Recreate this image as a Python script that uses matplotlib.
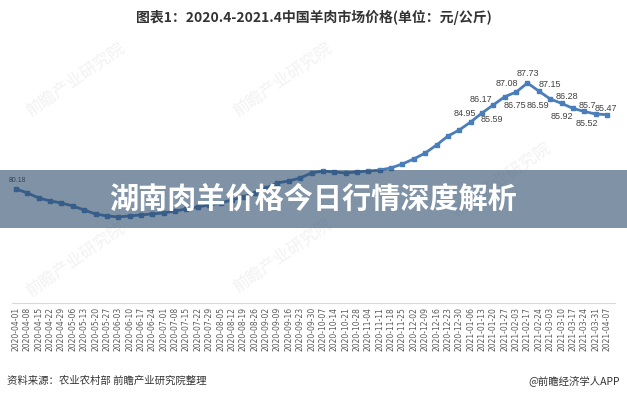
import matplotlib
matplotlib.use("Agg")
import matplotlib.pyplot as plt
from matplotlib.patches import Rectangle

plt.rcParams['font.family'] = ['Noto Sans CJK SC', 'DejaVu Sans']

# weekly dates (2021-02-10 missing in source)
dates = ["2020-04-01", "2020-04-08", "2020-04-15", "2020-04-22", "2020-04-29",
         "2020-05-06", "2020-05-13", "2020-05-20", "2020-05-27", "2020-06-03",
         "2020-06-10", "2020-06-17", "2020-06-24", "2020-07-01", "2020-07-08",
         "2020-07-15", "2020-07-22", "2020-07-29", "2020-08-05", "2020-08-12",
         "2020-08-19", "2020-08-26", "2020-09-02", "2020-09-09", "2020-09-16",
         "2020-09-23", "2020-09-30", "2020-10-07", "2020-10-14", "2020-10-21",
         "2020-10-28", "2020-11-04", "2020-11-11", "2020-11-18", "2020-11-25",
         "2020-12-02", "2020-12-09", "2020-12-16", "2020-12-23", "2020-12-30",
         "2021-01-06", "2021-01-13", "2021-01-20", "2021-01-27", "2021-02-03",
         "2021-02-17", "2021-02-24", "2021-03-03", "2021-03-10", "2021-03-17",
         "2021-03-24", "2021-03-31", "2021-04-07"]

prices = [80.18, 79.90, 79.54, 79.33, 79.18, 78.97, 78.68, 78.40, 78.26, 78.19,
          78.26, 78.33, 78.40, 78.47, 78.61, 78.76, 78.90, 79.04, 79.18, 79.40,
          79.61, 79.90, 80.25, 80.61, 80.75, 80.96, 81.32, 81.46, 81.39, 81.32,
          81.39, 81.46, 81.53, 81.68, 81.96, 82.32, 82.74, 83.31, 83.95, 84.38,
          84.95, 85.59, 86.17, 86.75, 87.08, 87.73, 87.15, 86.59, 86.28, 85.92,
          85.70, 85.52, 85.47]

# which points carry a data label
labeled = [0, 40, 41, 42, 43, 44, 45, 46, 47, 48, 49, 50, 51, 52]
# label offsets in points (dx, dy)
offsets = [(1, 6), (-4, 6), (7, -5), (-9, 4), (7, -6), (-7, 6), (0, 6.5),
           (8, 5), (-9, -5), (4, 5), (-8, -6), (2, 4.5), (-6, -7), (-1, 4.5)]

title = "图表1：2020.4-2021.4中国羊肉市场价格(单位：元/公斤)"
banner = "湖南肉羊价格今日行情深度解析"
source = "资料来源：农业农村部 前瞻产业研究院整理"
brand = "@前瞻经济学人APP"

fig = plt.figure(figsize=(6.27, 4.0), dpi=100)
fig.patch.set_facecolor("white")

# faint watermarks
for wx, wy in [(0.12, 0.80), (0.45, 0.80), (0.80, 0.55), (0.12, 0.35), (0.45, 0.36)]:
    fig.text(wx, wy, "前瞻产业研究院", fontsize=12, color="#f2f2f2", rotation=35,
             ha="center", va="center", zorder=0)

ax = fig.add_axes([12 / 627, 97 / 400, 603 / 627, 263 / 400])
ax.patch.set_alpha(0)
x = list(range(len(dates)))
ax.plot(x, prices, color="#4a7ebb", lw=2, marker="s", ms=3.5, zorder=3)

for i, (dx, dy) in zip(labeled, offsets):
    fs = 5 if i == 0 else 6.5
    ax.annotate(f"{prices[i]:g}", (x[i], prices[i]), xytext=(dx, dy),
                textcoords="offset points", ha="center", va="center",
                fontsize=fs, color="#404040", family=["Liberation Sans"], zorder=4)

ax.set_xlim(-0.35, 52.7)
ax.set_ylim(72.06, 90.79)
ax.set_xticks(x)
ax.set_xticklabels(dates, rotation=90, fontsize=5.5, color="#595959", family=["DejaVu Sans"])
ax.tick_params(axis="x", length=0, pad=3)
ax.set_yticks([])
for s in ["top", "right", "left"]:
    ax.spines[s].set_visible(False)
ax.spines["bottom"].set_color("#d9d9d9")

fig.text(0.5, 1 - 17 / 400, title, ha="center", va="center", fontsize=10,
         fontweight="bold", color="#333333")
fig.text(7 / 627, 1 - 381 / 400, source, ha="left", va="center", fontsize=7.5, color="#333333")
fig.text(620 / 627, 1 - 381 / 400, brand, ha="right", va="center", fontsize=7.5, color="#333333")

# overlay banner
fig.patches.append(Rectangle((0, 1 - 228 / 400), 1, 58 / 400, transform=fig.transFigure,
                             facecolor="#2b4969", alpha=0.6, edgecolor="none", zorder=10))
fig.text(0.5, 1 - 199 / 400, banner, ha="center", va="center", fontsize=21,
         fontweight="bold", color="white", zorder=11)

fig.savefig("out.png", dpi=100)
